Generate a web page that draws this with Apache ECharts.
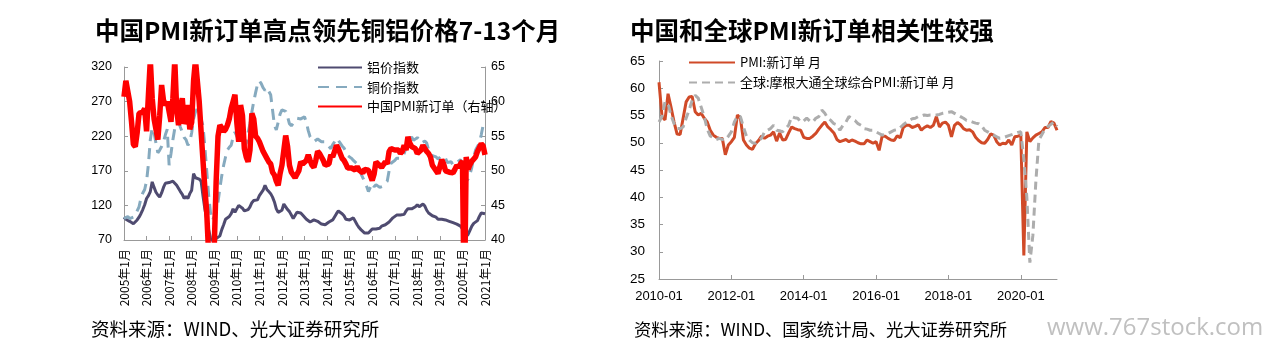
<!DOCTYPE html>
<html>
<head>
<meta charset="utf-8">
<script src="https://cdn.jsdelivr.net/npm/echarts@6/dist/echarts.min.js"></script>
<style>
html,body{margin:0;padding:0;background:#fff}
#main{width:1271px;height:351px}
</style>
</head>
<body>
<div id="main"></div>
<script>
// ---- left chart: 2005-01 .. 2021-01 monthly ----
var monthsLeft = [];
for (var y = 2005; y <= 2020; y++) {
	for (var m = 1; m <= 12; m++) monthsLeft.push(y + '年' + m + '月');
}
monthsLeft.push('2021年1月');

// 铝价指数
var alIndex = [
	103,100,98,97,95,93.5,95,99,103,108,114,121,
	130,134,140,154,146,139,135,132,138,146,152,154,
	153,154,155,152,149,147,140,136,130,133,130,137,
	142,166,160,158,158,155,134,115,100,85,73,68,
	67,72,74,76,85,92,100,102,104,108,115,110,
	110,120,122,116,112,110,114,118,124,127,125,128,
	134,138,142,149,143,140,137,132,125,115,110,108,
	113,122,118,114,111,106,101,103,110,110,109,106,
	104,100,98,96,97,99,100,97,96,93,91,92,
	94,96,97,99,100,108,112,111,108,105,100,98,
	99,100,102,100,92,88,85,83,80,79,80,83,
	86,84,86,88,87,90,91,92,93,96,98,102,
	104,106,108,106,105,107,112,115,117,115,114,118,
	121,118,116,122,119,113,109,107,105,105,103,100,
	99,100,99,99,98,97,96,95,94,93,92,90,
	88,82,75,78,84,90,94,96,98,104,109,107,
	108
];

// 铜价指数
var cuIndex = [
	101,103,104,101,100,103,106,112,118,130,138,143,
	155,180,215,232,225,210,196,200,205,212,222,230,
	178,195,215,231,238,241,233,226,218,215,207,212,
	225,245,255,260,252,245,235,205,170,135,110,98,
	96,110,125,145,163,178,190,200,204,207,218,226,
	220,214,212,215,205,210,225,238,255,270,283,295,
	300,296,290,286,290,288,280,258,236,229,240,252,
	258,260,256,248,238,235,239,241,246,248,245,247,
	248,240,228,219,215,212,214,216,214,212,210,212,
	210,205,202,208,212,217,214,210,206,203,198,192,
	190,188,185,183,180,174,166,160,155,148,140,142,
	152,147,150,148,146,147,148,150,155,170,181,183,
	185,188,186,188,190,195,203,210,215,219,214,212,
	218,215,210,212,213,210,200,195,192,193,190,187,
	188,192,190,188,182,181,183,178,180,182,184,186,
	180,170,155,158,165,175,190,200,205,210,222,236,
	240
];

// 中国PMI新订单（右轴）
var pmiLeft = [
	60.7,63.0,63.2,60.0,57.1,53.8,53.5,55.5,58.3,58.1,58.5,59.0,
	55.7,61.0,66.0,60.5,57.5,56.0,54.5,58.0,62.4,60.2,59.5,60.0,
	60.0,57.1,60.5,66.0,59.0,56.6,59.0,60.5,56.8,57.5,59.5,56.0,
	57.0,63.0,66.0,66.0,60.0,55.7,51.5,47.5,44.0,38.0,32.0,35.0,
	39.0,48.4,55.0,56.6,56.2,55.7,56.0,56.6,57.5,59.0,60.0,61.0,
	57.0,54.2,59.5,58.0,53.2,52.0,51.3,53.0,58.3,57.5,55.0,54.7,
	54.2,54.0,52.8,52.3,51.8,51.3,51.0,49.8,49.4,48.5,47.9,49.6,
	50.8,51.0,55.1,53.5,50.8,49.8,49.4,49.0,48.9,50.0,51.3,51.0,
	50.8,51.5,52.3,51.5,50.8,50.5,51.5,52.8,52.5,52.0,51.5,50.8,
	50.6,51.0,52.3,52.0,52.8,53.7,53.2,52.5,51.8,51.5,51.0,50.4,
	50.2,50.4,50.2,50.1,50.6,50.1,49.9,49.7,50.2,50.1,50.1,50.0,
	48.6,49.5,51.3,51.0,50.8,50.5,50.4,51.3,51.0,52.8,53.2,53.2,
	53.0,52.9,53.0,52.5,52.8,53.7,53.0,54.9,54.0,53.5,53.4,53.2,
	52.5,52.3,53.0,53.7,53.2,52.8,52.5,52.0,50.8,50.4,50.0,49.6,
	49.6,51.6,51.0,50.0,49.9,49.8,49.9,49.7,50.2,50.8,50.5,51.0,
	51.4,29.3,52.0,50.2,50.9,51.4,51.7,52.0,52.8,52.8,53.9,53.6,
	52.3
];

// ---- right chart: 2010-01 .. 2021-01 monthly ----
var monthsRight = [];
for (var y2 = 2010; y2 <= 2020; y2++) {
	for (var m2 = 1; m2 <= 12; m2++) monthsRight.push(y2 + '-' + (m2 < 10 ? '0' + m2 : m2));
}
monthsRight.push('2021-01');

// PMI:新订单 月
var pmiChina = [
	61.1,54.8,54.2,59.0,56.5,53.8,51.6,51.5,54.5,57.5,58.4,58.5,
	55.7,55.1,55.4,54.5,53.8,52.3,51.4,51.0,50.8,50.8,47.8,49.6,
	50.2,51.0,55.1,54.5,50.5,49.6,49.0,48.8,49.8,50.4,51.2,50.8,
	51.2,51.4,52.0,50.3,51.8,50.5,50.6,51.8,52.9,52.6,52.4,52.3,
	51.0,50.8,50.8,51.2,51.7,52.5,53.2,53.8,52.9,52.4,51.8,50.6,
	50.2,50.4,50.6,50.2,50.5,50.3,50.0,49.8,49.8,50.5,50.2,49.9,
	50.2,48.6,51.2,51.2,50.8,50.5,50.4,51.3,50.9,52.8,53.2,53.2,
	52.8,53.0,53.3,52.3,52.8,53.1,52.8,53.2,54.8,52.9,53.6,53.8,
	53.2,51.1,53.2,53.7,53.3,52.6,52.3,52.4,52.0,51.0,50.4,50.0,
	49.9,50.6,51.6,51.4,50.2,49.6,49.9,49.8,50.5,49.6,51.1,51.2,
	51.4,29.3,52.0,50.2,50.9,51.4,51.7,52.0,52.8,52.8,53.9,53.6,
	52.3
];

// 全球:摩根大通全球综合PMI:新订单 月
var pmiGlobal = [
	53.8,54.8,57.5,57.2,55.0,53.5,52.6,52.6,52.9,54.5,56.0,57.8,
	58.7,58.2,56.5,54.8,52.5,51.2,51.0,50.6,50.8,50.6,50.5,51.2,
	52.0,53.8,54.9,54.8,52.9,51.2,50.5,50.0,49.9,50.4,50.8,52.0,
	52.3,52.6,53.2,52.3,52.2,52.0,52.6,53.2,54.8,54.6,54.5,53.8,
	54.0,54.5,54.0,53.8,54.5,54.8,56.0,55.4,54.5,54.1,53.5,53.3,
	52.3,53.2,53.8,54.8,54.4,54.1,53.5,53.2,52.6,52.5,52.3,52.3,
	52.0,51.7,51.4,51.6,51.7,52.0,52.3,52.4,52.8,53.3,53.7,54.1,
	54.4,54.5,54.8,54.9,55.1,55.0,55.1,55.1,55.1,55.2,55.4,55.5,
	55.6,55.7,55.4,55.1,54.8,54.5,54.1,54.0,53.8,53.6,53.5,53.1,
	52.3,52.0,51.7,51.4,51.1,50.8,50.9,51.1,51.3,51.5,51.7,51.9,
	52.0,47.0,40.0,28.0,33.0,43.0,50.5,51.5,52.5,53.0,53.4,53.8,
	53.0
];

var numFont = 'Liberation Sans';
var cjkFont = 'Noto Sans CJK SC';

function everyN(n) {
	return function(idx) { return idx % n === 0; };
}

var chart = echarts.init(document.getElementById('main'));
var option = {
	animation: false,
	backgroundColor: '#fff',
	title: [
		{
			text: '中国PMI新订单高点领先铜铝价格7-13个月',
			left: 95, top: 18, padding: 0,
			textStyle: {fontSize: 24.5, fontWeight: 'bold', color: '#000', fontFamily: cjkFont}
		},
		{
			text: '中国和全球PMI新订单相关性较强',
			left: 630, top: 18, padding: 0,
			textStyle: {fontSize: 24.5, fontWeight: 'bold', color: '#000', fontFamily: cjkFont}
		},
		{
			text: '资料来源：WIND、光大证券研究所',
			left: 91, top: 320, padding: 0,
			textStyle: {fontSize: 18.5, fontWeight: 'normal', color: '#000', fontFamily: cjkFont}
		},
		{
			text: '资料来源：WIND、国家统计局、光大证券研究所',
			left: 634, top: 321, padding: 0,
			textStyle: {fontSize: 17.3, fontWeight: 'normal', color: '#000', fontFamily: cjkFont}
		},
		{
			text: 'www.767stock.com',
			left: 1047, top: 316, padding: 0,
			textStyle: {fontSize: 24, fontWeight: 'normal', color: '#c0c0c0', fontFamily: 'Open Sans'}
		}
	],
	legend: [
		{
			data: ['铝价指数', '铜价指数', '中国PMI新订单（右轴）'],
			orient: 'vertical',
			left: 312, top: 56,
			itemWidth: 44, itemHeight: 14, itemGap: 6.5,
			itemStyle: {opacity: 0},
			textStyle: {fontSize: 13, color: '#000', fontFamily: cjkFont}
		},
		{
			data: ['PMI:新订单 月', '全球:摩根大通全球综合PMI:新订单 月'],
			orient: 'vertical',
			left: 683, top: 51,
			itemWidth: 46, itemHeight: 14, itemGap: 7,
			itemStyle: {opacity: 0},
			textStyle: {fontSize: 13, color: '#000', fontFamily: cjkFont}
		}
	],
	grid: [
		{left: 124, top: 67, width: 361, height: 173},
		{left: 659, top: 61, width: 398, height: 218}
	],
	xAxis: [
		{
			gridIndex: 0, type: 'category', data: monthsLeft, boundaryGap: false,
			axisLine: {lineStyle: {color: '#999', width: 1}},
			axisTick: {inside: true, length: 4, interval: everyN(12), lineStyle: {color: '#999'}},
			axisLabel: {interval: everyN(12), rotate: 90, margin: 9, fontSize: 12, color: '#000', fontFamily: cjkFont},
			splitLine: {show: false}
		},
		{
			gridIndex: 1, type: 'category', data: monthsRight, boundaryGap: false,
			axisLine: {lineStyle: {color: '#999', width: 1}},
			axisTick: {inside: true, length: 4, interval: everyN(24), lineStyle: {color: '#999'}},
			axisLabel: {interval: everyN(24), margin: 11, fontSize: 13, color: '#000', fontFamily: numFont},
			splitLine: {show: false}
		}
	],
	yAxis: [
		{
			gridIndex: 0, type: 'value', min: 70, max: 320, interval: 50,
			axisLine: {show: true, lineStyle: {color: '#999'}},
			axisTick: {show: true, inside: true, length: 4, lineStyle: {color: '#999'}},
			axisLabel: {margin: 12, fontSize: 12.5, color: '#000', fontFamily: numFont},
			splitLine: {show: false}
		},
		{
			gridIndex: 0, type: 'value', position: 'right', min: 40, max: 65, interval: 5,
			axisLine: {show: true, lineStyle: {color: '#999'}},
			axisTick: {show: true, inside: true, length: 4, lineStyle: {color: '#999'}},
			axisLabel: {margin: 6, fontSize: 12.5, color: '#000', fontFamily: numFont},
			splitLine: {show: false}
		},
		{
			gridIndex: 1, type: 'value', min: 25, max: 65, interval: 5,
			axisLine: {show: true, lineStyle: {color: '#999'}},
			axisTick: {show: true, inside: true, length: 4, lineStyle: {color: '#999'}},
			axisLabel: {margin: 14, fontSize: 13.5, color: '#000', fontFamily: numFont},
			splitLine: {show: false}
		}
	],
	series: [
		{
			name: '铝价指数', type: 'line', xAxisIndex: 0, yAxisIndex: 0,
			data: alIndex, symbol: 'none', clip: true,
			lineStyle: {color: '#4f4b70', width: 3},
			itemStyle: {color: '#4f4b70'}
		},
		{
			name: '铜价指数', type: 'line', xAxisIndex: 0, yAxisIndex: 0,
			data: cuIndex, symbol: 'none', clip: true,
			lineStyle: {color: '#86aabf', width: 3, type: [11, 7]},
			itemStyle: {color: '#86aabf'}
		},
		{
			name: '中国PMI新订单（右轴）', type: 'line', xAxisIndex: 0, yAxisIndex: 1,
			data: pmiLeft, symbol: 'none', clip: true, z: 3,
			lineStyle: {color: '#ff0000', width: 5.5},
			itemStyle: {color: '#ff0000'}
		},
		{
			name: 'PMI:新订单 月', type: 'line', xAxisIndex: 1, yAxisIndex: 2,
			data: pmiChina, symbol: 'none', z: 3,
			lineStyle: {color: '#d04a28', width: 3},
			itemStyle: {color: '#d04a28'}
		},
		{
			name: '全球:摩根大通全球综合PMI:新订单 月', type: 'line', xAxisIndex: 1, yAxisIndex: 2,
			data: pmiGlobal, symbol: 'none',
			lineStyle: {color: '#adadad', width: 3, type: [8, 5]},
			itemStyle: {color: '#adadad'}
		}
	]
};
chart.setOption(option);
</script>
</body>
</html>
